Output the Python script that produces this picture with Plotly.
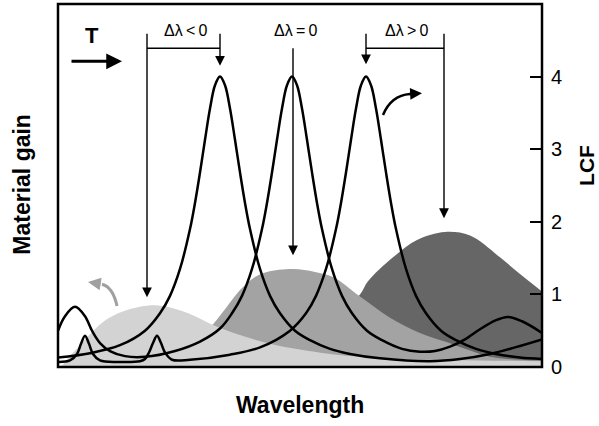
import plotly.graph_objects as go

# ---- wavelength axis (arbitrary units) ----
# LCF curves for three detunings
lcf_neg_x = [0, 32, 62, 87, 102, 112, 122, 132, 137, 142, 147, 152, 157, 162, 167, 172, 177, 182, 187, 192,
             202, 212, 222, 237, 252, 272, 292, 322, 372, 402, 432, 457, 484]
lcf_neg_y = [0.13, 0.19, 0.30, 0.50, 0.74, 0.98, 1.35, 1.90, 2.26, 2.68, 3.13, 3.56, 3.88, 4.00, 3.88, 3.56,
             3.13, 2.68, 2.26, 1.90, 1.35, 0.98, 0.74, 0.50, 0.37, 0.25, 0.18, 0.12, 0.08, 0.11, 0.18, 0.27, 0.38]

lcf_zero_x = [0, 7, 17, 27, 34, 42, 52, 67, 87, 117, 142, 162, 174, 184, 194, 204, 209, 214, 219, 224,
              229, 234, 239, 244, 249, 254, 259, 264, 274, 284, 294, 309, 324, 344, 362, 377, 392, 407, 422, 437,
              450, 464, 484]
lcf_zero_y = [0.50, 0.70, 0.83, 0.70, 0.50, 0.33, 0.22, 0.15, 0.14, 0.22, 0.35, 0.53, 0.74, 0.98, 1.35, 1.90,
              2.26, 2.68, 3.13, 3.56, 3.88, 4.00, 3.88, 3.56, 3.13, 2.68, 2.26, 1.90, 1.35, 0.98, 0.74, 0.50,
              0.37, 0.25, 0.21, 0.22, 0.28, 0.38, 0.52, 0.64, 0.69, 0.63, 0.47]

lcf_pos_x = [0, 12, 19, 23, 27, 31, 35, 42, 62, 82, 87, 91, 95, 99, 103, 107, 114, 132, 172, 202,
             232, 248, 258, 268, 278, 283, 288, 293, 298, 303, 308, 313, 318, 323, 328, 333, 338, 348, 358, 368,
             383, 398, 418, 438, 462, 484]
lcf_pos_y = [0.07, 0.09, 0.18, 0.32, 0.43, 0.32, 0.18, 0.09, 0.07, 0.08, 0.11, 0.20, 0.33, 0.43, 0.33, 0.20,
             0.10, 0.10, 0.17, 0.27, 0.50, 0.74, 0.98, 1.35, 1.90, 2.26, 2.68, 3.13, 3.56, 3.88, 4.00, 3.88,
             3.56, 3.13, 2.68, 2.26, 1.90, 1.35, 0.98, 0.74, 0.50, 0.37, 0.25, 0.18, 0.13, 0.11]

# material gain spectra at three temperatures
gain_low_x = [0, 4, 12, 22, 34, 47, 64, 82, 97, 112, 132, 155, 182, 212, 242, 272, 312, 362, 422, 484]
gain_low_y = [0.0, 0.02, 0.15, 0.30, 0.48, 0.64, 0.76, 0.83, 0.85, 0.82, 0.73, 0.58, 0.44, 0.32, 0.24, 0.18,
              0.13, 0.10, 0.09, 0.08]

gain_mid_x = [0, 92, 122, 142, 157, 170, 182, 197, 209, 235, 257, 275, 302, 332, 362, 387, 407, 432, 462, 484]
gain_mid_y = [0.0, 0.05, 0.20, 0.40, 0.62, 0.85, 1.06, 1.24, 1.31, 1.35, 1.31, 1.24, 0.97, 0.68, 0.47, 0.35,
              0.25, 0.14, 0.10, 0.09]

gain_high_x = [0, 192, 242, 272, 302, 310, 335, 359, 387, 412, 442, 462, 484]
gain_high_y = [0.0, 0.05, 0.30, 0.62, 1.00, 1.18, 1.51, 1.75, 1.86, 1.81, 1.51, 1.28, 1.04]

lcf_ticks = [0, 1, 2, 3, 4]
detuning_labels = ["Δλ\u2009<\u20090", "Δλ\u2009=\u20090", "Δλ\u2009>\u20090"]

FONT = "Arial, 'Liberation Sans', sans-serif"

fig = go.Figure()

# gain fills: hottest behind, coolest in front
for gx, gy, col in [(gain_high_x, gain_high_y, "#666666"),
                    (gain_mid_x, gain_mid_y, "#a3a3a3"),
                    (gain_low_x, gain_low_y, "#d3d3d3")]:
    fig.add_trace(go.Scatter(x=gx, y=gy, mode="lines", fill="tozeroy", fillcolor=col,
                             line=dict(width=0, shape="spline", smoothing=1.0, color=col),
                             yaxis="y", hoverinfo="skip", showlegend=False))

for lx, ly in [(lcf_pos_x, lcf_pos_y), (lcf_zero_x, lcf_zero_y), (lcf_neg_x, lcf_neg_y)]:
    fig.add_trace(go.Scatter(x=lx, y=ly, mode="lines",
                             line=dict(width=2.5, color="black", shape="spline", smoothing=1.0),
                             yaxis="y2", hoverinfo="skip", showlegend=False))

annotations = []


def arrow(x, y, ax, ay, width=1.4, size=1.4, color="black"):
    annotations.append(dict(x=x, y=y, ax=ax, ay=ay, xref="x", yref="y2", axref="x", ayref="y2",
                            text="", showarrow=True, arrowhead=2, arrowsize=size, arrowwidth=width,
                            arrowcolor=color, standoff=0, startstandoff=0))


# detuning markers
arrow(89, 0.96, 89, 4.61)
arrow(162, 4.15, 162, 4.61)
arrow(235, 1.54, 235, 4.41)
arrow(308, 4.17, 308, 4.61)
arrow(386, 2.05, 386, 4.61)

# temperature arrow
arrow(64, 4.21, 12, 4.21, width=3, size=1.05)
# curved arrow heads
arrow(364, 3.77, 350, 3.76, width=2.5, size=0.95)
arrow(30, 1.17, 44, 1.14, width=3, size=0.85, color="#a0a0a0")

for txt, xc in zip(detuning_labels, [127, 237, 348]):
    annotations.append(dict(x=xc, y=4.64, xref="x", yref="y2", text=txt, showarrow=False,
                            font=dict(size=16, color="black", family=FONT)))

annotations.append(dict(x=34, y=4.56, xref="x", yref="y2", text="<b>T</b>", showarrow=False,
                        font=dict(size=22, color="black", family=FONT)))

# axis titles
annotations.append(dict(x=-0.0744, y=0.505, xref="paper", yref="paper", text="<b>Material gain</b>",
                        textangle=-90, showarrow=False, xanchor="center", yanchor="middle",
                        font=dict(size=23, color="black", family=FONT)))
annotations.append(dict(x=1.093, y=0.554, xref="paper", yref="paper", text="<b>LCF</b>",
                        textangle=-90, showarrow=False, xanchor="center", yanchor="middle",
                        font=dict(size=21, color="black", family=FONT)))
annotations.append(dict(x=0.5, y=-0.105, xref="paper", yref="paper", text="<b>Wavelength</b>",
                        showarrow=False, xanchor="center", yanchor="middle",
                        font=dict(size=23, color="black", family=FONT)))

shapes = [
    # brackets
    dict(type="line", xref="x", yref="y2", x0=89, x1=162, y0=4.39, y1=4.39, line=dict(color="black", width=1.4)),
    dict(type="line", xref="x", yref="y2", x0=308, x1=386, y0=4.39, y1=4.39, line=dict(color="black", width=1.4)),
    # curved arrows
    dict(type="path", xref="x", yref="y2", path="M 325,3.47 Q 333,3.74 352,3.76",
         line=dict(color="black", width=2.5)),
    dict(type="path", xref="x", yref="y2", path="M 59,0.84 Q 55,1.10 44,1.14",
         line=dict(color="#a0a0a0", width=3)),
    # frame
    dict(type="rect", xref="paper", yref="paper", x0=0, x1=1, y0=0, y1=1,
         line=dict(color="black", width=2.5)),
]

fig.update_layout(
    width=599, height=426,
    margin=dict(l=58, r=57, t=4, b=59),
    paper_bgcolor="white", plot_bgcolor="white",
    font=dict(family=FONT, color="black"),
    xaxis=dict(range=[0, 484], showticklabels=False, ticks="", showgrid=False, zeroline=False,
               showline=False),
    yaxis=dict(range=[0, 5], showticklabels=False, ticks="", showgrid=False, zeroline=False,
               showline=False),
    yaxis2=dict(range=[0, 5], overlaying="y", side="right", anchor="x", tickvals=lcf_ticks,
                ticks="inside", ticklen=12, tickwidth=2, tickcolor="black", showgrid=False,
                zeroline=False, showline=False, ticklabelstandoff=8,
                tickfont=dict(size=20, color="black", family=FONT)),
    annotations=annotations,
    shapes=shapes,
)

fig.write_html("out.html")
